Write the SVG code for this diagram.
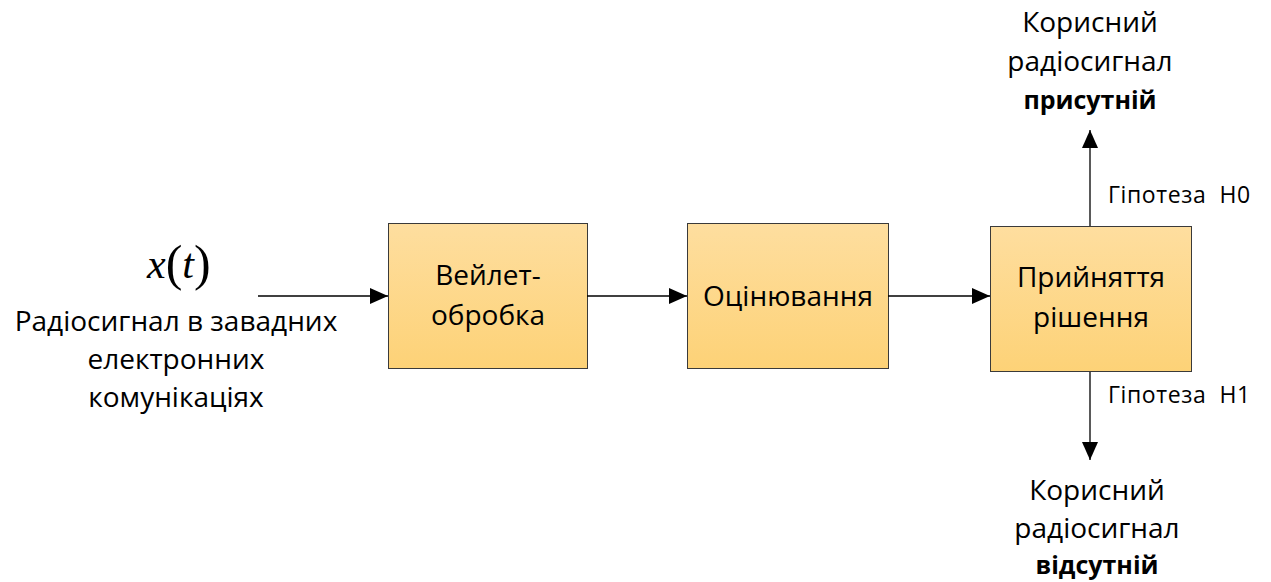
<svg xmlns="http://www.w3.org/2000/svg" width="1271" height="582" viewBox="0 0 1271 582">
  <style>
    .lbl { font-family: "Open Sans", "Liberation Sans", sans-serif; fill: #000; text-anchor: middle; }
    .big { font-size: 28px; }
    .small { font-size: 23px; text-anchor: start; letter-spacing: 0.6px; }
    .b { font-weight: bold; font-size: 25px; }
    .box { fill: url(#boxFill); stroke: #3a3a3a; stroke-width: 1; }
    .wire { stroke: #000; stroke-width: 1.3; fill: none; marker-end: url(#arrow); }
    .math { font-family: "Liberation Serif", serif; font-size: 42px; }
  </style>
  <defs>
    <linearGradient id="boxFill" x1="0" y1="0" x2="0" y2="1">
      <stop offset="0" stop-color="#FEDE9F"/>
      <stop offset="1" stop-color="#FDD277"/>
    </linearGradient>
    <marker id="arrow" viewBox="0 0 18 16" refX="18" refY="8" markerWidth="18" markerHeight="16" markerUnits="userSpaceOnUse" orient="auto">
      <path d="M0,0 L18,8 L0,16 Z" fill="#000"/>
    </marker>
  </defs>

  <!-- input signal -->
  <g id="input">
    <text class="math" x="147" y="278"><tspan font-style="italic">x</tspan><tspan font-size="50" dy="2">(</tspan><tspan font-style="italic" dy="-2">t</tspan><tspan font-size="50" dy="2">)</tspan></text>
    <text class="lbl big" x="176" y="331">Радіосигнал в завадних</text>
    <text class="lbl big" x="176" y="369">електронних</text>
    <text class="lbl big" x="176" y="407">комунікаціях</text>
  </g>

  <g id="wavelet">
    <rect class="box" x="388.5" y="223.5" width="199" height="145"/>
    <text class="lbl big" x="488" y="285">Вейлет-</text>
    <text class="lbl big" x="488" y="325">обробка</text>
  </g>

  <g id="estimation">
    <rect class="box" x="687.5" y="223.5" width="201" height="145"/>
    <text class="lbl big" x="788" y="306">Оцінювання</text>
  </g>

  <g id="decision">
    <rect class="box" x="990.5" y="226.5" width="201" height="145"/>
    <text class="lbl big" x="1091" y="287">Прийняття</text>
    <text class="lbl big" x="1091" y="327">рішення</text>
  </g>

  <g id="present">
    <text class="lbl big" x="1090" y="32">Корисний</text>
    <text class="lbl big" x="1090" y="71">радіосигнал</text>
    <text class="lbl b" x="1090" y="109">присутній</text>
  </g>

  <g id="absent">
    <text class="lbl big" x="1097" y="500">Корисний</text>
    <text class="lbl big" x="1097" y="538">радіосигнал</text>
    <text class="lbl b" x="1097" y="574">відсутній</text>
  </g>

  <g id="hypotheses">
    <text class="lbl small" x="1108" y="203">Гіпотеза&#160; Н0</text>
    <text class="lbl small" x="1108" y="403">Гіпотеза&#160; Н1</text>
  </g>

  <g id="connectors">
    <line class="wire" x1="258" y1="296" x2="388" y2="296"/>
    <line class="wire" x1="587" y1="296" x2="687" y2="296"/>
    <line class="wire" x1="888" y1="296" x2="990" y2="296"/>
    <line class="wire" x1="1090" y1="226" x2="1090" y2="130"/>
    <line class="wire" x1="1090" y1="372" x2="1090" y2="460"/>
  </g>
</svg>
